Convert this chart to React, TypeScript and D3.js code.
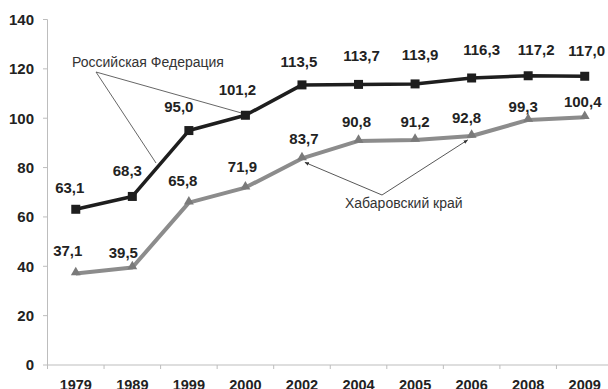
import React from "react";
import * as d3 from "d3";

const years = ["1979", "1989", "1999", "2000", "2002", "2004", "2005", "2006", "2008", "2009"];
const russia = [63.1, 68.3, 95.0, 101.2, 113.5, 113.7, 113.9, 116.3, 117.2, 117.0];
const khabarovsk = [37.1, 39.5, 65.8, 71.9, 83.7, 90.8, 91.2, 92.8, 99.3, 100.4];
const yTicks = [0, 20, 40, 60, 80, 100, 120, 140];

// label placement tweaks (layout)
const ruDx = [-6, -5, -10, -8, -3, 3, 5, 10, 8, 2];
const ruDy = [-22, -26, -24, -26, -23, -29, -29, -28, -26, -26];
const khDx = [-8, -9, -6, -3, 2, -2, 0, -5, -5, -2];
const khDy = [-23, -15, -22, -21, -20, -19, -18, -18, -13, -16];

const W = 608;
const H = 389;

export default function App() {
  const x = d3.scaleBand<string>().domain(years).range([47.5, 613]).padding(0);
  const cx = (c: string) => (x(c) as number) + x.bandwidth() / 2;
  const y = d3.scaleLinear().domain([0, 140]).range([365, 19.5]);
  const line = d3
    .line<number>()
    .x((_, i) => cx(years[i]))
    .y((d) => y(d));
  const fmt = (v: number) => v.toFixed(1).replace(".", ",");
  const tri = d3.symbol().type(d3.symbolTriangle).size(42)();
  const font = "'Liberation Sans', Arial, sans-serif";

  const ruApex = [96, 72];
  const ruEnd1 = [156, 163];
  const ruEnd2 = [cx("2000") - 3, y(101.2) - 2];
  const khApex = [382, 195];
  const khEnd1 = [cx("2002") + 3, y(83.7) + 4];
  const khEnd2 = [cx("2006") - 4, y(92.8) + 4];

  return (
    <svg
      width={W}
      height={H}
      style={{ position: "absolute", left: 0, top: 0, background: "#fff" }}
      fontFamily={font}
    >
      <defs>
        <marker id="arr" viewBox="0 0 10 10" refX="9" refY="5" markerWidth="5" markerHeight="5" orient="auto">
          <path d="M0,1 L10,5 L0,9 z" fill="#333" />
        </marker>
      </defs>
      {/* axes */}
      <line x1={47.5} x2={47.5} y1={y(140)} y2={365} stroke="#bdbdbd" strokeWidth={1} />
      <line x1={47.5} x2={W} y1={365} y2={365} stroke="#bdbdbd" strokeWidth={1} />
      {yTicks.map((t) => (
        <g key={t}>
          <line x1={43} x2={47.5} y1={y(t)} y2={y(t)} stroke="#bdbdbd" />
          <text x={34} y={y(t)} dy="0.36em" textAnchor="end" fontSize={15} fontWeight="bold" fill="#222">
            {t}
          </text>
        </g>
      ))}
      {years.map((c) => (
        <line key={"xt" + c} x1={x(c) as number} x2={x(c) as number} y1={365} y2={369} stroke="#bdbdbd" />
      ))}
      {years.map((c) => (
        <text key={"xl" + c} x={cx(c)} y={390} textAnchor="middle" fontSize={14.5} fontWeight="bold" fill="#222">
          {c}
        </text>
      ))}

      {/* annotation lines */}
      <line x1={ruApex[0]} y1={ruApex[1]} x2={ruEnd1[0]} y2={ruEnd1[1]} stroke="#555" strokeWidth={0.9} />
      <line x1={ruApex[0]} y1={ruApex[1]} x2={ruEnd2[0]} y2={ruEnd2[1]} stroke="#555" strokeWidth={0.9} />
      <line x1={khApex[0]} y1={khApex[1]} x2={khEnd1[0]} y2={khEnd1[1]} stroke="#444" strokeWidth={0.9} markerEnd="url(#arr)" />
      <line x1={khApex[0]} y1={khApex[1]} x2={khEnd2[0]} y2={khEnd2[1]} stroke="#444" strokeWidth={0.9} markerEnd="url(#arr)" />

      {/* series */}
      <path d={line(khabarovsk) || ""} fill="none" stroke="#8c8c8c" strokeWidth={4} strokeLinejoin="round" />
      {khabarovsk.map((v, i) => (
        <path key={"kt" + i} d={tri || ""} transform={`translate(${cx(years[i])},${y(v) - 1})`} fill="#7a7a7a" />
      ))}
      <path d={line(russia) || ""} fill="none" stroke="#1e1e1e" strokeWidth={3.5} strokeLinejoin="round" />
      {russia.map((v, i) => (
        <rect key={"rs" + i} x={cx(years[i]) - 4.5} y={y(v) - 4.5} width={9} height={9} fill="#1e1e1e" />
      ))}

      {/* data labels */}
      {russia.map((v, i) => (
        <text
          key={"rl" + i}
          x={cx(years[i]) + ruDx[i]}
          y={y(v) + ruDy[i]}
          dy="0.36em"
          textAnchor="middle"
          fontSize={15}
          fontWeight="bold"
          fill="#222"
        >
          {fmt(v)}
        </text>
      ))}
      {khabarovsk.map((v, i) => (
        <text
          key={"kl" + i}
          x={cx(years[i]) + khDx[i]}
          y={y(v) + khDy[i]}
          dy="0.36em"
          textAnchor="middle"
          fontSize={15}
          fontWeight="bold"
          fill="#222"
        >
          {fmt(v)}
        </text>
      ))}

      {/* series names */}
      <text x={72} y={67} fontSize={14} fill="#333">
        Российская Федерация
      </text>
      <text x={345} y={208} fontSize={14} fill="#333">
        Хабаровский край
      </text>
    </svg>
  );
}
